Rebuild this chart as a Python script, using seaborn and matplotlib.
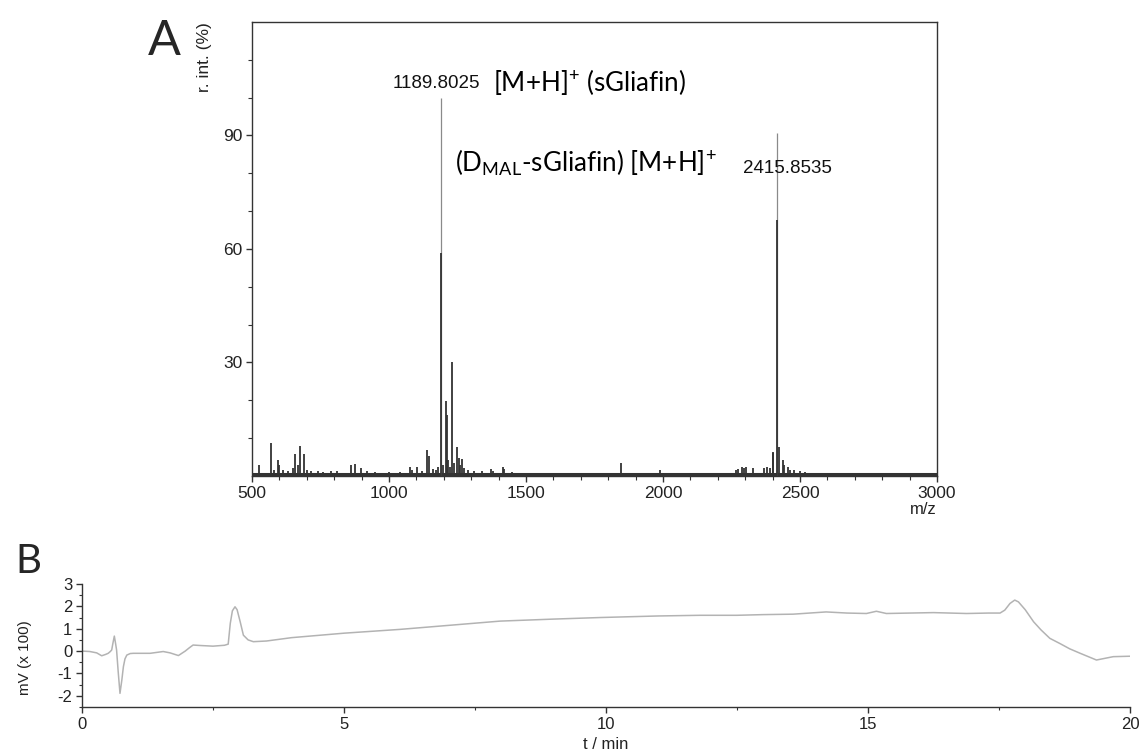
import numpy as np
import pandas as pd
import matplotlib
matplotlib.use("Agg")
import matplotlib.pyplot as plt
import seaborn as sns

# ---------------- data: panel A (MALDI spectrum) ----------------
mz = [524, 568, 580, 595, 600, 612, 630, 650, 658, 668, 674, 689, 700, 715, 740,
      760, 790, 810, 861, 877, 897, 920, 950, 1000, 1040, 1077, 1085, 1103, 1120,
      1140, 1145, 1160, 1170, 1179, 1189.8025, 1190.8, 1198, 1207, 1212, 1216,
      1223, 1231, 1236, 1249, 1254, 1260, 1267, 1275, 1290, 1310, 1340, 1373,
      1380, 1417, 1421, 1450, 1500, 1600, 1700, 1760, 1845, 1900, 1989, 2100,
      2200, 2265, 2275, 2287, 2295, 2303, 2330, 2369, 2378, 2390, 2400, 2403,
      2415.8535, 2416.85, 2422, 2438, 2443, 2457, 2465, 2479, 2500, 2520, 2600,
      2700, 2800, 2900, 2990]
intensity = [2.8, 8.6, 1.5, 4.1, 2.8, 1.6, 1.4, 2.2, 5.7, 2.8, 7.9, 5.7, 1.5, 1.3, 1.2,
             1.1, 1.2, 1.3, 2.8, 3.1, 2.1, 1.2, 1.0, 1.1, 1.0, 2.3, 1.5, 2.3, 1.4,
             6.9, 5.2, 1.8, 1.6, 2.5, 100.0, 59.0, 3.0, 19.7, 16.2, 4.3,
             2.5, 30.0, 3.5, 7.6, 4.8, 2.8, 4.6, 2.0, 1.5, 1.3, 1.2, 1.8,
             1.3, 2.3, 1.8, 1.0, 0.9, 0.8, 0.9, 0.8, 3.4, 0.8, 1.6, 0.8,
             0.9, 1.5, 1.8, 2.5, 2.0, 2.3, 2.2, 2.1, 2.5, 2.0, 6.3, 6.1,
             90.7, 67.6, 7.6, 4.1, 2.8, 2.3, 1.6, 1.6, 1.4, 1.0, 0.7,
             0.7, 0.7, 0.7, 0.7]
labelled_mz = [1189.8025, 2415.8535]
baseline_level = 0.5
mz_range = [500, 3000]
a_xticks = [500, 1000, 1500, 2000, 2500, 3000]
a_yticks = [30, 60, 90]

# ---------------- data: panel B (chromatogram) ----------------
t_min = [0.0, 0.15, 0.28, 0.376, 0.45, 0.50, 0.54, 0.567, 0.59, 0.617, 0.64, 0.66,
         0.69, 0.725, 0.76, 0.79, 0.82, 0.855, 0.92, 0.98, 1.3, 1.55, 1.68,
         1.84, 1.97, 2.05, 2.12, 2.25, 2.5, 2.72, 2.79, 2.83, 2.87, 2.92, 2.96,
         3.02, 3.08, 3.17, 3.27, 3.52, 4.0, 5.0, 6.07, 7.0, 7.98, 9.0, 9.89,
         11.0, 11.8, 12.5, 13.0, 13.57, 14.2, 14.6, 14.97, 15.16, 15.35, 15.8,
         16.25, 16.88, 17.3, 17.52, 17.61, 17.71, 17.8, 17.87, 18.0, 18.16,
         18.3, 18.47, 18.66, 18.85, 19.05, 19.36, 19.68, 20.0]
signal = [0.0, -0.02, -0.08, -0.21, -0.15, -0.1, -0.02, 0.05, 0.35, 0.67, 0.35, 0.05,
          -0.9, -1.89, -1.3, -0.7, -0.35, -0.18, -0.11, -0.1, -0.1, -0.02, -0.08,
          -0.2, 0.0, 0.15, 0.27, 0.25, 0.22, 0.26, 0.31, 1.24, 1.8, 1.98, 1.85,
          1.3, 0.71, 0.5, 0.42, 0.45, 0.6, 0.8, 0.97, 1.15, 1.34, 1.43, 1.5,
          1.57, 1.6, 1.6, 1.63, 1.65, 1.75, 1.7, 1.68, 1.78, 1.68, 1.7,
          1.72, 1.68, 1.7, 1.7, 1.83, 2.13, 2.28, 2.2, 1.85, 1.31,
          0.95, 0.57, 0.34, 0.1, -0.1, -0.4, -0.25, -0.23]
b_xticks = [0, 5, 10, 15, 20]
b_yticks = [-2, -1, 0, 1, 2, 3]

# ---------------- style ----------------
sns.set_theme(style="ticks")
SANS = ["Liberation Sans", "DejaVu Sans"]
plt.rcParams["font.family"] = SANS
plt.rcParams["mathtext.fontset"] = "custom"
plt.rcParams["mathtext.rm"] = "Lato"
plt.rcParams["mathtext.it"] = "Lato:italic"
plt.rcParams["mathtext.bf"] = "Lato:bold"

fig = plt.figure(figsize=(11.42, 7.51), dpi=100)
fig.patch.set_facecolor("white")

tick_col = "#222222"

# ---------------- panel A ----------------
axA = fig.add_axes([0.2207, 0.3662, 0.5998, 0.6045])
spec = pd.DataFrame({"mz": mz, "intensity": intensity})
axA.hlines(baseline_level, mz_range[0], mz_range[1], color="#333333", lw=2.2, zorder=2)
is_tall = spec["intensity"] > 80
small = spec[~is_tall]
tall = spec[is_tall]
axA.vlines(tall["mz"], 0, tall["intensity"], color="#8a8a8a", lw=0.9, zorder=3)
axA.vlines(small["mz"], 0, small["intensity"], color="#333333", lw=1.3, zorder=4)
axA.set_xlim(*mz_range)
axA.set_ylim(0, 120)
axA.set_xticks(a_xticks)
axA.set_xticks(np.arange(mz_range[0], mz_range[1] + 1, 100), minor=True)
axA.set_yticks(a_yticks)
axA.set_yticks(np.arange(10, 120, 10), minor=True)
axA.tick_params(axis="both", which="major", length=4, width=1, color="#333333",
                labelsize=12.5, labelcolor=tick_col, pad=3)
axA.tick_params(axis="both", which="minor", length=3, width=0.8, color="#333333")
for lab in axA.get_xticklabels() + axA.get_yticklabels():
    lab.set_family(SANS)
for s in axA.spines.values():
    s.set_color("#333333")
    s.set_linewidth(1.0)
axA.set_xlabel("")
axA.set_ylabel("")
axA.text(-0.069, 1.0, "r. int. (%)", transform=axA.transAxes, rotation=90,
         ha="center", va="top", fontsize=12.5, color=tick_col, family=SANS)
axA.text(1.0, -0.074, "m/z", transform=axA.transAxes, ha="right", va="center",
         fontsize=12, color=tick_col, family=SANS)

# annotations
axA.text(1014, 102.6, f"{labelled_mz[0]:.4f}", ha="left", va="baseline",
         fontsize=13.5, color="#111111", family=SANS)
axA.text(1378, 101.8, r"$\mathregular{[M{+}H]^{+}}$ (sGliafin)", ha="left",
         va="baseline", fontsize=18.7, family="Lato", color="black")
axA.text(1241, 80.4, r"(D$\mathregular{_{MAL}}$-sGliafin) $\mathregular{[M{+}H]^{+}}$",
         ha="left", va="baseline", fontsize=18.7, family="Lato", color="black")
axA.text(2292, 80.0, f"{labelled_mz[1]:.4f}", ha="left", va="baseline",
         fontsize=13.5, color="#111111", family=SANS)

fig.text(0.1296, 0.9268, "A", ha="left", va="baseline", fontsize=35, family="Lato")

# ---------------- panel B ----------------
axB = fig.add_axes([0.0718, 0.0586, 0.9177, 0.1638])
chrom = pd.DataFrame({"t": t_min, "mV": signal})
sns.lineplot(data=chrom, x="t", y="mV", ax=axB, color="#b3b3b3", lw=1.1)
axB.set_xlim(0, 20)
axB.set_ylim(-2.5, 3)
axB.set_xticks(b_xticks)
axB.set_xticks(np.arange(0, 20.1, 2.5), minor=True)
axB.set_yticks(b_yticks)
axB.set_yticks(np.arange(-2.5, 3.01, 0.5), minor=True)
axB.set_yticklabels([str(v) for v in b_yticks])
axB.tick_params(axis="both", which="major", length=4, width=1, color="#333333",
                labelsize=12, labelcolor=tick_col, pad=3)
axB.tick_params(axis="both", which="minor", length=2.5, width=0.8, color="#333333")
for lab in axB.get_xticklabels() + axB.get_yticklabels():
    lab.set_family(SANS)
sns.despine(ax=axB)
for s in ["left", "bottom"]:
    axB.spines[s].set_color("#333333")
    axB.spines[s].set_linewidth(1.0)
axB.set_xlabel("t / min", fontsize=12, color=tick_col, labelpad=4, family=SANS)
axB.set_ylabel("mV (x 100)", fontsize=11, color=tick_col, labelpad=8, family=SANS)
axB.yaxis.set_label_coords(-0.048, 0.4)

fig.text(0.0131, 0.237, "B", ha="left", va="baseline", fontsize=29, family="Lato")

fig.savefig("out.png", dpi=100, facecolor="white")
